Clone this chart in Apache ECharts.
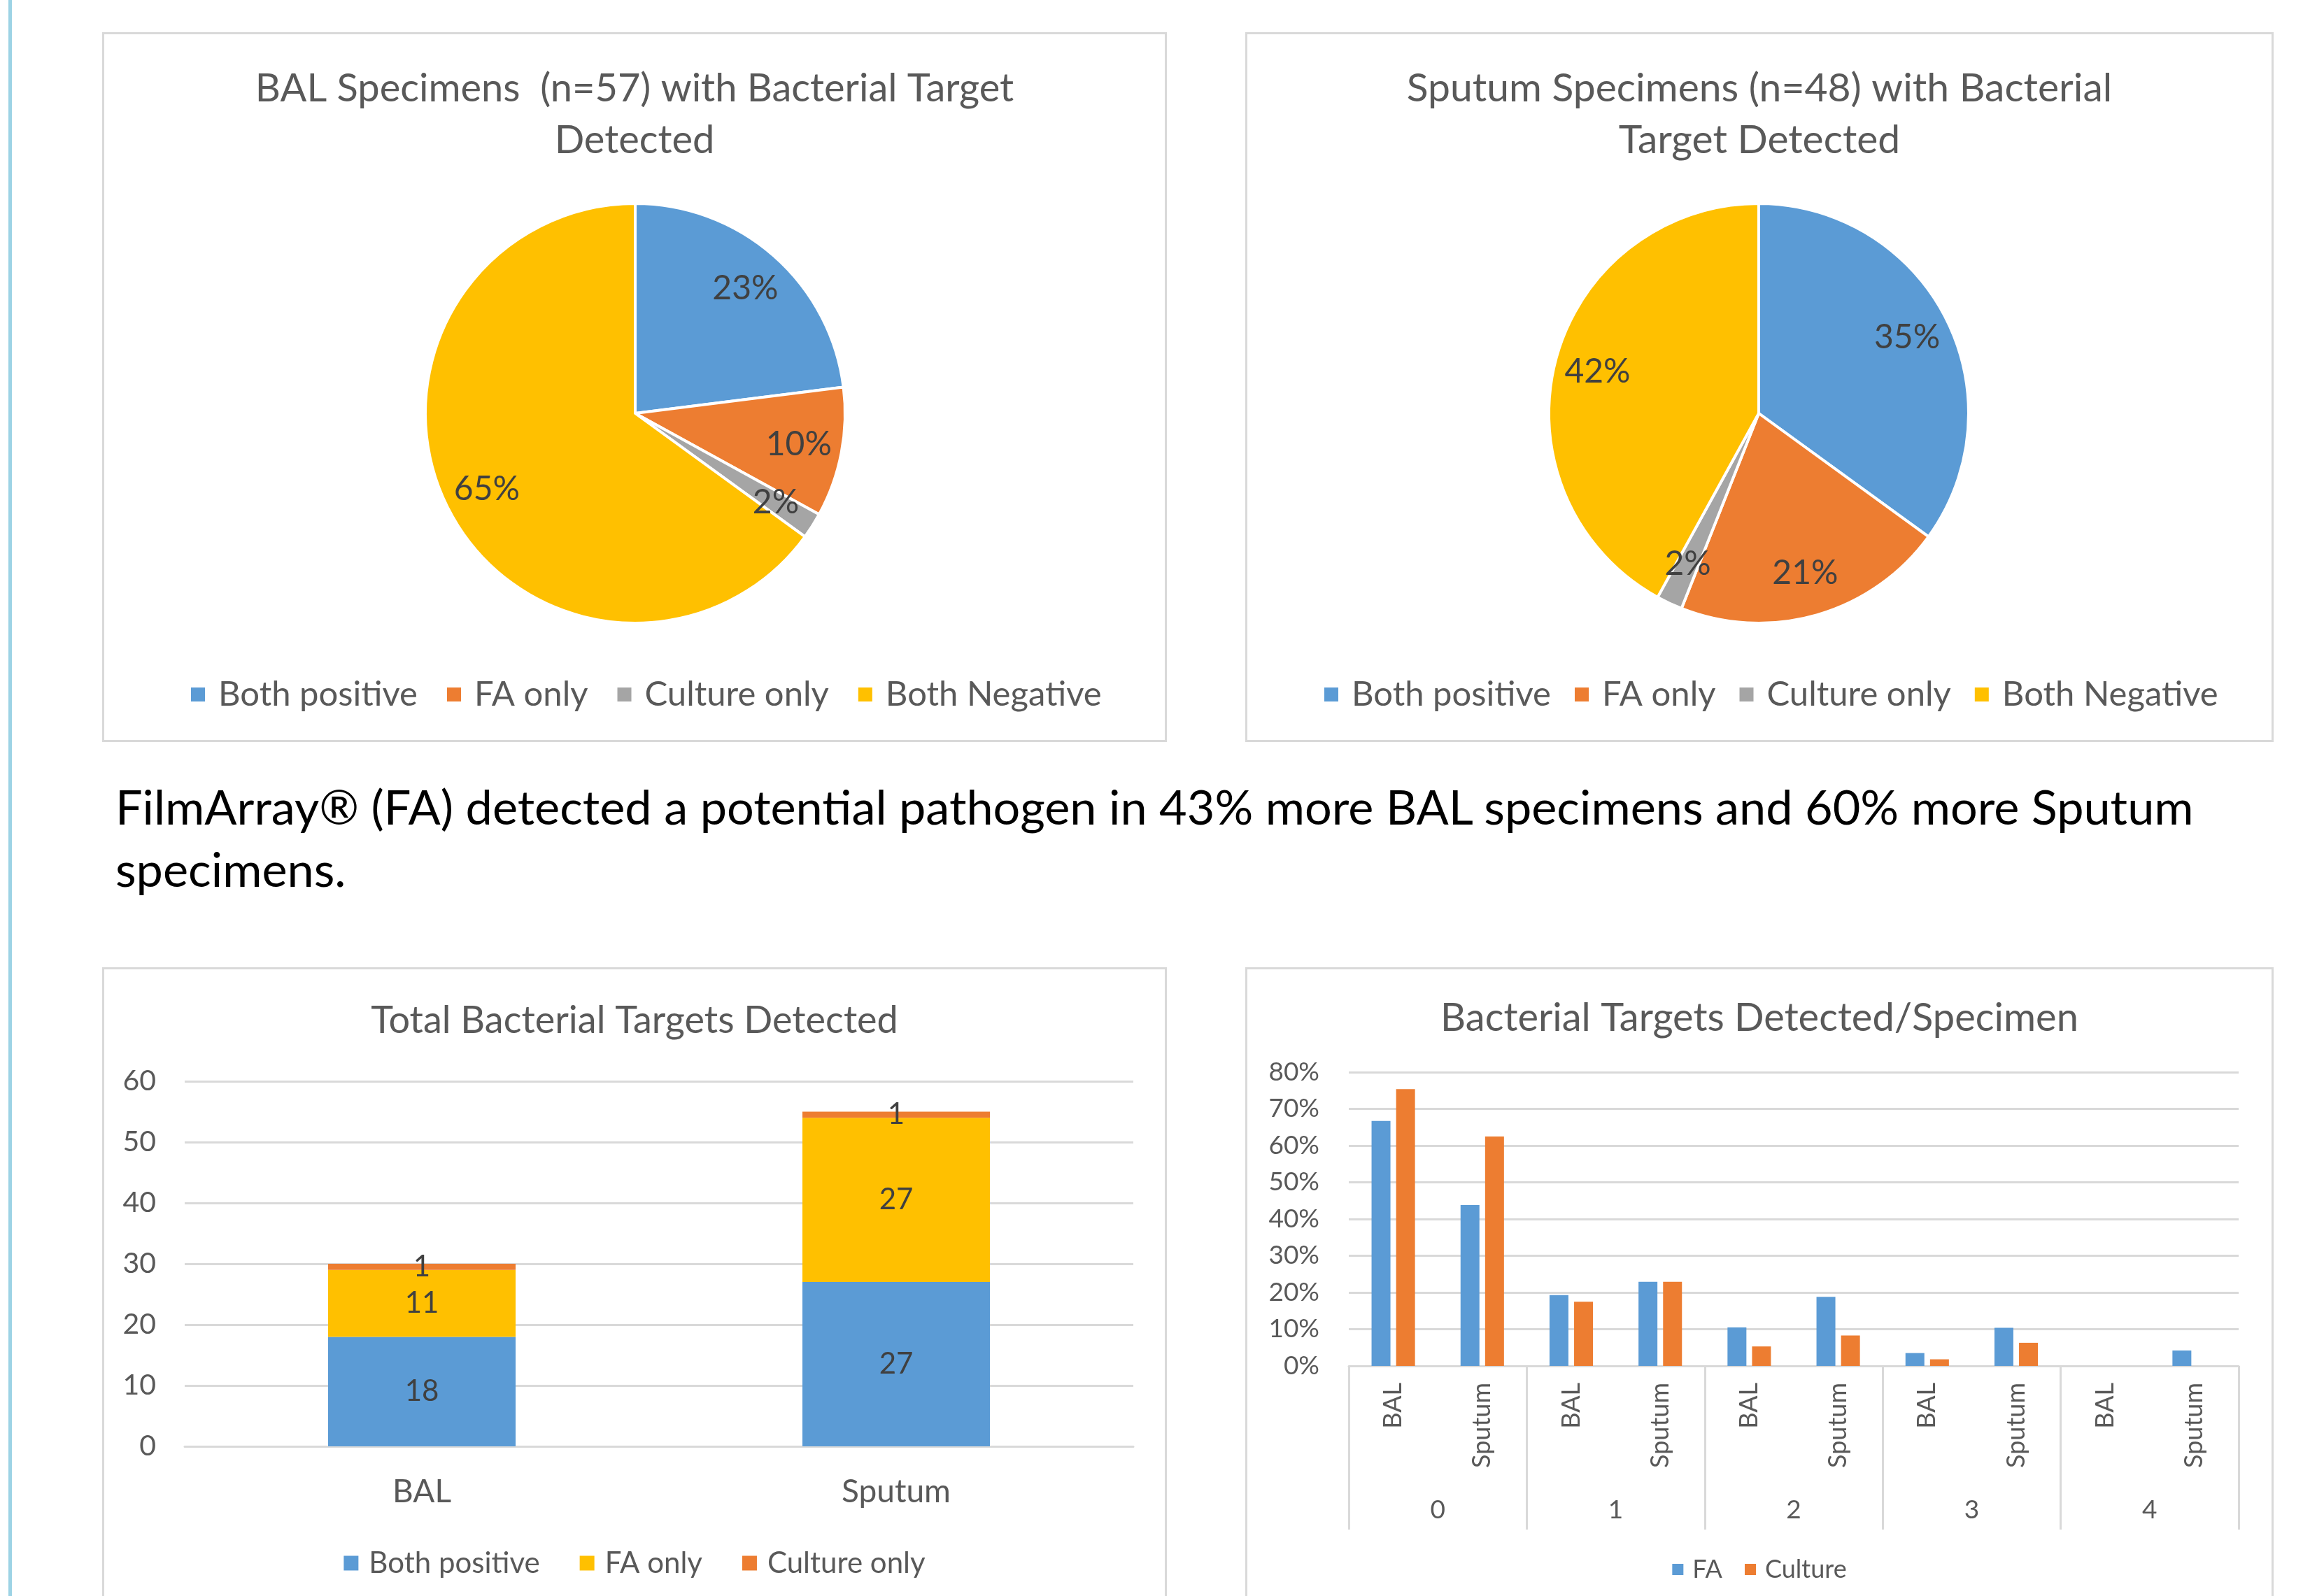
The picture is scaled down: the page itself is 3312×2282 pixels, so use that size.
<!DOCTYPE html>
<html>
<head>
<meta charset="utf-8">
<title>Bacterial targets</title>
<script src="https://cdn.jsdelivr.net/npm/echarts@6/dist/echarts.min.js"></script>
<style>
  html, body { margin: 0; padding: 0; background: #fff; }
  body { width: 3312px; height: 2282px; position: relative; overflow: hidden; font-family: Lato, sans-serif; }
  .rule { position: absolute; left: 12px; top: 0; width: 5px; height: 2282px; background: #9dd3e5; }
  .chart { position: absolute; }
  #note { position: absolute; left: 165px; top: 1108px; font-size: 68.4px; line-height: 89px; color: #000; white-space: nowrap; }
</style>
</head>
<body>
<div class="rule"></div>
<div id="balPie" class="chart" style="left:146px;top:46px;width:1522px;height:1015px"></div>
<div id="sputumPie" class="chart" style="left:1780px;top:46px;width:1470px;height:1015px"></div>
<div id="note">FilmArray® (FA) detected a potential pathogen in 43% more BAL specimens and 60% more Sputum<br>specimens.</div>
<div id="totalBar" class="chart" style="left:146px;top:1383px;width:1522px;height:1000px"></div>
<div id="perSpecimen" class="chart" style="left:1780px;top:1383px;width:1470px;height:1000px"></div>
<script>
// data
const pieNames = ['Both positive', 'FA only', 'Culture only', 'Both Negative'];
const balPieValues = [23, 10, 2, 65];
const sputumPieValues = [35, 21, 2, 42];

const totalCategories = ['BAL', 'Sputum'];
const totalNames = ['Both positive', 'FA only', 'Culture only'];
const totalBothPositive = [18, 27];
const totalFaOnly = [11, 27];
const totalCultureOnly = [1, 1];

const targetGroups = ['0', '1', '2', '3', '4'];
const specimenTypes = ['BAL', 'Sputum'];
const faPercent = [66.7, 43.8, 19.3, 22.9, 10.5, 18.8, 3.5, 10.4, 0, 4.2];
const culturePercent = [75.4, 62.5, 17.5, 22.9, 5.3, 8.3, 1.8, 6.3, 0, 0];

const FONT = 'Lato';
const TEXT = '#595959';
const LABEL = '#404040';
const GRID = '#d9d9d9';
const BLUE = '#5b9bd5', ORANGE = '#ed7d31', GREY = '#a5a5a5', YELLOW = '#ffc000';

// light grey box round each chart
function frame(w, h) {
  return [{
    type: 'rect', z: -1, silent: true,
    shape: { x: 1.5, y: 1.5, width: w - 3, height: h - 3 },
    style: { fill: 'transparent', stroke: GRID, lineWidth: 3 }
  }];
}

function titleOf(text, top, size, lh) {
  return {
    text: text, left: 'center', top: top,
    textStyle: { fontFamily: FONT, fontSize: size, fontWeight: 'normal', color: TEXT, lineHeight: lh }
  };
}

function pieOption(title, values, w, h, cx, titleSize, legendLeft, legendGap) {
  const data = pieNames.map((n, i) => ({ name: n, value: values[i] }));
  const center = [cx, 545];
  return {
    animation: false,
    color: [BLUE, ORANGE, GREY, YELLOW],
    graphic: frame(w, h),
    title: titleOf(title, 39, titleSize, 74),
    legend: {
      data: pieNames, left: legendLeft, top: 913,
      icon: 'rect', itemWidth: 20, itemHeight: 20, itemGap: legendGap,
      itemStyle: { borderWidth: 0 },
      textStyle: { fontFamily: FONT, fontSize: 49, color: TEXT, lineHeight: 58, padding: [0, 0, 0, 14] }
    },
    series: [
      {
        type: 'pie', center: center, radius: 300, startAngle: 90, clockwise: true,
        data: data,
        label: { show: false }, labelLine: { show: false },
        itemStyle: { borderColor: '#fff', borderWidth: 4 },
        emphasis: { disabled: true }
      },
      {
        // transparent ring that only carries the labels further out
        type: 'pie', center: center, radius: [170, 300], startAngle: 90, clockwise: true,
        data: data, silent: true,
        itemStyle: { color: 'transparent' },
        label: { show: true, position: 'inside', formatter: '{c}%', fontFamily: FONT, fontSize: 48, color: LABEL },
        labelLine: { show: false },
        emphasis: { disabled: true }
      }
    ]
  };
}

let chart = echarts.init(document.getElementById('balPie'));
chart.setOption(pieOption('BAL Specimens  (n=57) with Bacterial Target\nDetected', balPieValues, 1522, 1015, 762, 56, 122, 42));

chart = echarts.init(document.getElementById('sputumPie'));
chart.setOption(pieOption('Sputum Specimens (n=48) with Bacterial\nTarget Detected', sputumPieValues, 1470, 1015, 734, 57, 108, 34));

// stacked totals
chart = echarts.init(document.getElementById('totalBar'));
const stackLabel = { show: true, position: 'inside', fontFamily: FONT, fontSize: 42, color: LABEL };
chart.setOption({
  animation: false,
  graphic: frame(1522, 1000),
  title: titleOf('Total Bacterial Targets Detected', 40, 54, 64),
  legend: {
    data: totalNames, left: 'center', top: 822,
    icon: 'rect', itemWidth: 21, itemHeight: 21, itemGap: 57,
    textStyle: { fontFamily: FONT, fontSize: 42, color: TEXT, lineHeight: 50, padding: [0, 0, 0, 10] }
  },
  grid: { left: 118, right: 48, top: 163, height: 522, outerBoundsMode: 'none' },
  xAxis: {
    type: 'category', data: totalCategories,
    axisLine: { lineStyle: { color: GRID, width: 3 } },
    axisTick: { show: false },
    axisLabel: { margin: 42, fontFamily: FONT, fontSize: 46, color: TEXT }
  },
  yAxis: {
    type: 'value', min: 0, max: 60, interval: 10,
    axisLine: { show: false }, axisTick: { show: false },
    axisLabel: { margin: 41, fontFamily: FONT, fontSize: 41, color: TEXT },
    splitLine: { lineStyle: { color: GRID, width: 3 } }
  },
  series: [
    { name: 'Both positive', type: 'bar', stack: 'total', barWidth: 268, data: totalBothPositive, itemStyle: { color: BLUE }, label: stackLabel },
    { name: 'FA only', type: 'bar', stack: 'total', barWidth: 268, data: totalFaOnly, itemStyle: { color: YELLOW }, label: stackLabel },
    { name: 'Culture only', type: 'bar', stack: 'total', barWidth: 268, data: totalCultureOnly, itemStyle: { color: ORANGE }, label: stackLabel }
  ]
});

// per-specimen distribution, grouped axis (specimen type under number of targets)
const specimenCategories = [];
targetGroups.forEach(function () { specimenTypes.forEach(function (t) { specimenCategories.push(t); }); });

chart = echarts.init(document.getElementById('perSpecimen'));
chart.setOption({
  animation: false,
  graphic: frame(1470, 1000),
  title: titleOf('Bacterial Targets Detected/Specimen', 35, 56, 66),
  legend: {
    data: ['FA', 'Culture'], left: 'center', top: 835,
    icon: 'rect', itemWidth: 16, itemHeight: 16, itemGap: 32,
    textStyle: { fontFamily: FONT, fontSize: 36, color: TEXT, lineHeight: 42, padding: [0, 0, 0, 8] }
  },
  grid: { left: 148, right: 50, top: 150, height: 420, outerBoundsMode: 'none' },
  xAxis: [
    {
      type: 'category', data: specimenCategories,
      axisLine: { lineStyle: { color: GRID, width: 3 } },
      axisTick: { show: false },
      axisLabel: { interval: 0, rotate: 90, margin: 24, fontFamily: FONT, fontSize: 36, color: TEXT }
    },
    {
      type: 'category', data: targetGroups, position: 'bottom', offset: 0,
      axisLine: { show: false },
      axisTick: { show: true, length: 234, lineStyle: { color: GRID, width: 3 } },
      axisLabel: { interval: 0, margin: 188, fontFamily: FONT, fontSize: 37, color: TEXT }
    }
  ],
  yAxis: {
    type: 'value', min: 0, max: 80, interval: 10,
    axisLine: { show: false }, axisTick: { show: false },
    axisLabel: { margin: 42, fontFamily: FONT, fontSize: 37, color: TEXT, formatter: '{value}%' },
    splitLine: { lineStyle: { color: GRID, width: 3 } }
  },
  series: [
    { name: 'FA', type: 'bar', xAxisIndex: 0, barWidth: 27, barGap: '30%', data: faPercent, itemStyle: { color: BLUE } },
    { name: 'Culture', type: 'bar', xAxisIndex: 0, barWidth: 27, barGap: '30%', data: culturePercent, itemStyle: { color: ORANGE } }
  ]
});
</script>
</body>
</html>
